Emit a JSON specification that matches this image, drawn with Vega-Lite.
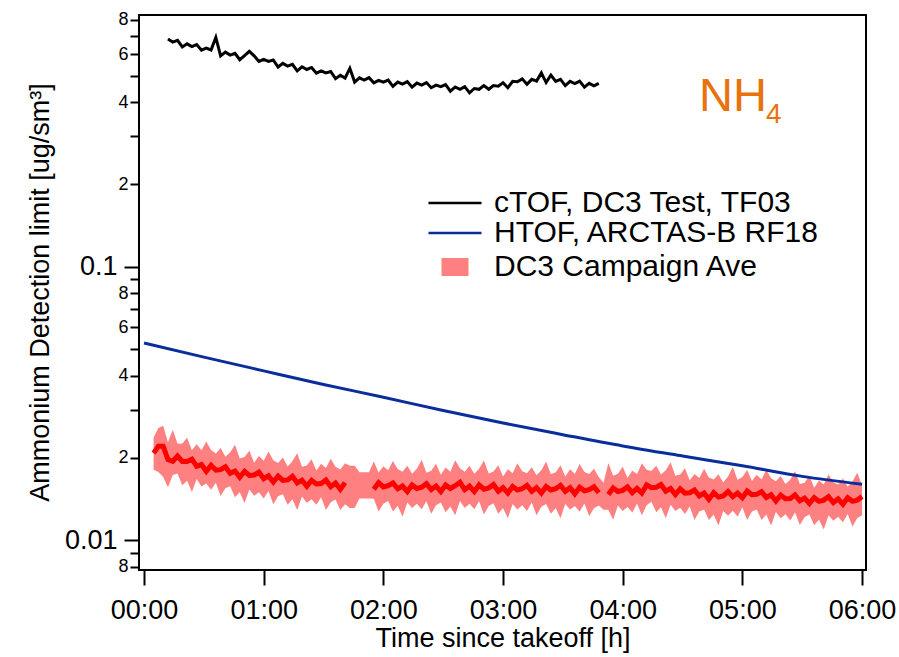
{
  "$schema": "https://vega.github.io/schema/vega-lite/v6.json",
  "width": 727,
  "height": 555,
  "autosize": {"type": "none"},
  "padding": {"left": 139, "top": 15, "right": 33, "bottom": 87},
  "background": "white",
  "config": {
    "font": "Liberation Sans",
    "view": {"stroke": "#000000", "strokeWidth": 2},
    "axis": {"domain": false, "grid": false, "tickColor": "#000000", "labelColor": "#000000", "titleColor": "#000000", "labelFont": "Liberation Sans", "titleFont": "Liberation Sans", "titleFontWeight": "normal"},
    "legend": {"labelFont": "Liberation Sans", "labelColor": "#000000", "labelFontSize": 30, "labelLimit": 600, "padding": 0, "rowPadding": 0, "symbolSize": 400, "labelOffset": 24}
  },
  "datasets": {
    "ctof": [
      {"t":0.20,"v":0.681},{"t":0.24,"v":0.664},{"t":0.28,"v":0.674},{"t":0.32,"v":0.637},{"t":0.36,"v":0.654},{"t":0.40,"v":0.639},{"t":0.44,"v":0.650},{"t":0.48,"v":0.620},{"t":0.52,"v":0.631},{"t":0.56,"v":0.621},{"t":0.60,"v":0.690},{"t":0.64,"v":0.591},{"t":0.68,"v":0.610},{"t":0.72,"v":0.595},{"t":0.76,"v":0.604},{"t":0.80,"v":0.572},{"t":0.84,"v":0.592},{"t":0.88,"v":0.614},{"t":0.92,"v":0.591},{"t":0.96,"v":0.564},{"t":1.00,"v":0.574},{"t":1.04,"v":0.564},{"t":1.08,"v":0.571},{"t":1.12,"v":0.538},{"t":1.16,"v":0.555},{"t":1.20,"v":0.542},{"t":1.24,"v":0.550},{"t":1.28,"v":0.521},{"t":1.32,"v":0.539},{"t":1.36,"v":0.527},{"t":1.40,"v":0.536},{"t":1.44,"v":0.511},{"t":1.48,"v":0.521},{"t":1.52,"v":0.512},{"t":1.56,"v":0.518},{"t":1.60,"v":0.488},{"t":1.64,"v":0.502},{"t":1.68,"v":0.490},{"t":1.72,"v":0.532},{"t":1.76,"v":0.474},{"t":1.80,"v":0.491},{"t":1.84,"v":0.482},{"t":1.88,"v":0.492},{"t":1.92,"v":0.471},{"t":1.96,"v":0.481},{"t":2.00,"v":0.474},{"t":2.04,"v":0.482},{"t":2.08,"v":0.457},{"t":2.12,"v":0.474},{"t":2.16,"v":0.466},{"t":2.20,"v":0.476},{"t":2.24,"v":0.454},{"t":2.28,"v":0.470},{"t":2.32,"v":0.462},{"t":2.36,"v":0.472},{"t":2.40,"v":0.452},{"t":2.44,"v":0.462},{"t":2.48,"v":0.456},{"t":2.52,"v":0.464},{"t":2.56,"v":0.439},{"t":2.60,"v":0.455},{"t":2.64,"v":0.446},{"t":2.68,"v":0.456},{"t":2.72,"v":0.433},{"t":2.76,"v":0.449},{"t":2.80,"v":0.446},{"t":2.84,"v":0.460},{"t":2.88,"v":0.446},{"t":2.92,"v":0.460},{"t":2.96,"v":0.458},{"t":3.00,"v":0.471},{"t":3.04,"v":0.452},{"t":3.08,"v":0.477},{"t":3.12,"v":0.475},{"t":3.16,"v":0.487},{"t":3.20,"v":0.465},{"t":3.24,"v":0.485},{"t":3.28,"v":0.478},{"t":3.32,"v":0.512},{"t":3.36,"v":0.472},{"t":3.40,"v":0.503},{"t":3.44,"v":0.477},{"t":3.48,"v":0.485},{"t":3.52,"v":0.460},{"t":3.56,"v":0.477},{"t":3.60,"v":0.468},{"t":3.64,"v":0.478},{"t":3.68,"v":0.454},{"t":3.72,"v":0.469},{"t":3.76,"v":0.459},{"t":3.80,"v":0.469}
    ],
    "htof": [
      {"t":0,"v":0.0526},{"t":0.5,"v":0.0467},{"t":1.0,"v":0.0416},{"t":1.5,"v":0.0371},{"t":2.0,"v":0.0333},{"t":2.5,"v":0.0298},{"t":3.0,"v":0.0268},{"t":3.5,"v":0.0243},{"t":4.0,"v":0.0221},{"t":4.5,"v":0.0203},{"t":5.0,"v":0.0187},{"t":5.5,"v":0.0171},{"t":6.0,"v":0.0160}
    ],
    "dc3": [
      {"t":0.08,"v":0.0208,"lo":0.0181,"hi":0.02371,"s":1},
      {"t":0.12,"v":0.02204,"lo":0.01776,"hi":0.02568,"s":1},
      {"t":0.16,"v":0.02205,"lo":0.0170,"hi":0.0262,"s":1},
      {"t":0.20,"v":0.0197,"lo":0.0156,"hi":0.02282,"s":1},
      {"t":0.24,"v":0.0194,"lo":0.01729,"hi":0.02533,"s":1},
      {"t":0.28,"v":0.0203,"lo":0.01751,"hi":0.02249,"s":1},
      {"t":0.32,"v":0.0194,"lo":0.01588,"hi":0.02254,"s":1},
      {"t":0.36,"v":0.0194,"lo":0.01649,"hi":0.02367,"s":1},
      {"t":0.40,"v":0.01978,"lo":0.01498,"hi":0.02131,"s":1},
      {"t":0.44,"v":0.01862,"lo":0.01672,"hi":0.02242,"s":1},
      {"t":0.48,"v":0.01889,"lo":0.01571,"hi":0.02132,"s":1},
      {"t":0.52,"v":0.01785,"lo":0.0161,"hi":0.02294,"s":1},
      {"t":0.56,"v":0.01877,"lo":0.01527,"hi":0.02134,"s":1},
      {"t":0.60,"v":0.01802,"lo":0.0162,"hi":0.02075,"s":1},
      {"t":0.64,"v":0.0181,"lo":0.01448,"hi":0.02172,"s":1},
      {"t":0.68,"v":0.01854,"lo":0.01548,"hi":0.02016,"s":1},
      {"t":0.72,"v":0.01754,"lo":0.01575,"hi":0.02094,"s":1},
      {"t":0.76,"v":0.01788,"lo":0.01434,"hi":0.0223,"s":1},
      {"t":0.80,"v":0.01698,"lo":0.01496,"hi":0.01989,"s":1},
      {"t":0.84,"v":0.01785,"lo":0.01365,"hi":0.02013,"s":1},
      {"t":0.88,"v":0.01723,"lo":0.01531,"hi":0.02123,"s":1},
      {"t":0.92,"v":0.0173,"lo":0.01453,"hi":0.0192,"s":1},
      {"t":0.96,"v":0.01772,"lo":0.01496,"hi":0.0203,"s":1},
      {"t":1.00,"v":0.01676,"lo":0.01419,"hi":0.01949,"s":1},
      {"t":1.04,"v":0.01717,"lo":0.01513,"hi":0.02108,"s":1},
      {"t":1.08,"v":0.01631,"lo":0.01352,"hi":0.0196,"s":1},
      {"t":1.12,"v":0.01714,"lo":0.01445,"hi":0.01915,"s":1},
      {"t":1.16,"v":0.01653,"lo":0.0147,"hi":0.02004,"s":1},
      {"t":1.20,"v":0.0166,"lo":0.01345,"hi":0.01859,"s":1},
      {"t":1.24,"v":0.0171,"lo":0.01411,"hi":0.01942,"s":1},
      {"t":1.28,"v":0.01617,"lo":0.01287,"hi":0.02079,"s":1},
      {"t":1.32,"v":0.01656,"lo":0.01443,"hi":0.01853,"s":1},
      {"t":1.36,"v":0.01573,"lo":0.01369,"hi":0.01875,"s":1},
      {"t":1.40,"v":0.01652,"lo":0.01409,"hi":0.01976,"s":1},
      {"t":1.44,"v":0.01604,"lo":0.01345,"hi":0.01798,"s":1},
      {"t":1.48,"v":0.0161,"lo":0.01433,"hi":0.019,"s":1},
      {"t":1.52,"v":0.01658,"lo":0.01288,"hi":0.01835,"s":1},
      {"t":1.56,"v":0.01568,"lo":0.01376,"hi":0.01984,"s":1},
      {"t":1.60,"v":0.01616,"lo":0.01408,"hi":0.01856,"s":1},
      {"t":1.64,"v":0.01534,"lo":0.01288,"hi":0.01813,"s":1},
      {"t":1.68,"v":0.01622,"lo":0.01352,"hi":0.01908,"s":1},
      {"t":1.72,"lo":0.0131,"hi":0.0187,"s":0},
      {"t":1.76,"lo":0.0131,"hi":0.0187,"s":0},
      {"t":1.80,"lo":0.0142,"hi":0.0177,"s":0},
      {"t":1.84,"lo":0.0142,"hi":0.0177,"s":0},
      {"t":1.88,"lo":0.0142,"hi":0.0177,"s":0},
      {"t":1.92,"v":0.01534,"lo":0.01415,"hi":0.0194,"s":2},
      {"t":1.96,"v":0.01622,"lo":0.01272,"hi":0.01765,"s":2},
      {"t":2.00,"v":0.01564,"lo":0.01359,"hi":0.01864,"s":2},
      {"t":2.04,"v":0.0158,"lo":0.0139,"hi":0.01801,"s":2},
      {"t":2.08,"v":0.01617,"lo":0.01272,"hi":0.01947,"s":2},
      {"t":2.12,"v":0.01539,"lo":0.01335,"hi":0.01821,"s":2},
      {"t":2.16,"v":0.01576,"lo":0.01217,"hi":0.01778,"s":2},
      {"t":2.20,"v":0.01505,"lo":0.01373,"hi":0.01872,"s":2},
      {"t":2.24,"v":0.01591,"lo":0.0131,"hi":0.01747,"s":2},
      {"t":2.28,"v":0.01544,"lo":0.01357,"hi":0.01825,"s":2},
      {"t":2.32,"v":0.0156,"lo":0.01295,"hi":0.01966,"s":2},
      {"t":2.36,"v":0.01607,"lo":0.01388,"hi":0.01763,"s":2},
      {"t":2.40,"v":0.01529,"lo":0.01248,"hi":0.01794,"s":2},
      {"t":2.44,"v":0.01576,"lo":0.01342,"hi":0.01903,"s":2},
      {"t":2.48,"v":0.01505,"lo":0.01373,"hi":0.01732,"s":2},
      {"t":2.52,"v":0.01591,"lo":0.01264,"hi":0.01841,"s":2},
      {"t":2.56,"v":0.01544,"lo":0.01326,"hi":0.01778,"s":2},
      {"t":2.60,"v":0.0158,"lo":0.01232,"hi":0.01959,"s":2},
      {"t":2.64,"v":0.01627,"lo":0.0139,"hi":0.01833,"s":2},
      {"t":2.68,"v":0.01529,"lo":0.0131,"hi":0.01778,"s":2},
      {"t":2.72,"v":0.01576,"lo":0.01357,"hi":0.01872,"s":2},
      {"t":2.76,"v":0.01505,"lo":0.01295,"hi":0.01747,"s":2},
      {"t":2.80,"v":0.01591,"lo":0.01388,"hi":0.01825,"s":2},
      {"t":2.84,"v":0.01535,"lo":0.0124,"hi":0.01953,"s":2},
      {"t":2.88,"v":0.0155,"lo":0.01333,"hi":0.01752,"s":2},
      {"t":2.92,"v":0.01597,"lo":0.01364,"hi":0.01783,"s":2},
      {"t":2.96,"v":0.01509,"lo":0.01247,"hi":0.01879,"s":2},
      {"t":3.00,"v":0.01555,"lo":0.01309,"hi":0.01709,"s":2},
      {"t":3.04,"v":0.01486,"lo":0.01201,"hi":0.01817,"s":2},
      {"t":3.08,"v":0.01571,"lo":0.01355,"hi":0.01756,"s":2},
      {"t":3.12,"v":0.01525,"lo":0.01294,"hi":0.0191,"s":2},
      {"t":3.16,"v":0.0154,"lo":0.0134,"hi":0.01786,"s":2},
      {"t":3.20,"v":0.01586,"lo":0.01278,"hi":0.01756,"s":2},
      {"t":3.24,"v":0.01509,"lo":0.01371,"hi":0.01848,"s":2},
      {"t":3.28,"v":0.01555,"lo":0.01232,"hi":0.01725,"s":2},
      {"t":3.32,"v":0.01486,"lo":0.01324,"hi":0.01802,"s":2},
      {"t":3.36,"v":0.01571,"lo":0.01355,"hi":0.0194,"s":2},
      {"t":3.40,"v":0.01525,"lo":0.01247,"hi":0.0174,"s":2},
      {"t":3.44,"v":0.0154,"lo":0.01309,"hi":0.01771,"s":2},
      {"t":3.48,"v":0.01586,"lo":0.01201,"hi":0.01879,"s":2},
      {"t":3.52,"v":0.01509,"lo":0.01355,"hi":0.01709,"s":2},
      {"t":3.56,"v":0.01555,"lo":0.01294,"hi":0.01817,"s":2},
      {"t":3.60,"v":0.01476,"lo":0.01331,"hi":0.01744,"s":2},
      {"t":3.64,"v":0.01561,"lo":0.0127,"hi":0.01897,"s":2},
      {"t":3.68,"v":0.01515,"lo":0.01362,"hi":0.01775,"s":2},
      {"t":3.72,"v":0.0153,"lo":0.01224,"hi":0.01744,"s":2},
      {"t":3.76,"v":0.01566,"lo":0.01307,"hi":0.01824,"s":2},
      {"t":3.80,"v":0.0149,"lo":0.01338,"hi":0.01702,"s":2},
      {"t":3.84,"lo":0.0129,"hi":0.0162,"s":0},
      {"t":3.88,"v":0.01467,"lo":0.01292,"hi":0.01915,"s":3},
      {"t":3.92,"v":0.0155,"lo":0.01186,"hi":0.01718,"s":3},
      {"t":3.96,"v":0.01505,"lo":0.01338,"hi":0.01748,"s":3},
      {"t":4.00,"v":0.0152,"lo":0.01277,"hi":0.01854,"s":3},
      {"t":4.04,"v":0.01566,"lo":0.01322,"hi":0.01687,"s":3},
      {"t":4.08,"v":0.0149,"lo":0.01262,"hi":0.01794,"s":3},
      {"t":4.12,"v":0.01545,"lo":0.01362,"hi":0.01744,"s":3},
      {"t":4.16,"v":0.01486,"lo":0.01232,"hi":0.0191,"s":3},
      {"t":4.20,"v":0.01591,"lo":0.01342,"hi":0.0181,"s":3},
      {"t":4.24,"v":0.01554,"lo":0.01382,"hi":0.0179,"s":3},
      {"t":4.28,"v":0.0156,"lo":0.01264,"hi":0.01872,"s":3},
      {"t":4.32,"v":0.01597,"lo":0.01318,"hi":0.01736,"s":3},
      {"t":4.36,"v":0.01509,"lo":0.01201,"hi":0.01802,"s":3},
      {"t":4.40,"v":0.01545,"lo":0.01346,"hi":0.01928,"s":3},
      {"t":4.44,"v":0.01467,"lo":0.01277,"hi":0.01718,"s":3},
      {"t":4.48,"v":0.0154,"lo":0.01314,"hi":0.01737,"s":3},
      {"t":4.52,"v":0.01485,"lo":0.01245,"hi":0.0183,"s":3},
      {"t":4.56,"v":0.0149,"lo":0.01326,"hi":0.01654,"s":3},
      {"t":4.60,"v":0.01524,"lo":0.01184,"hi":0.01746,"s":3},
      {"t":4.64,"v":0.0145,"lo":0.01273,"hi":0.01687,"s":3},
      {"t":4.68,"v":0.01485,"lo":0.01294,"hi":0.01823,"s":3},
      {"t":4.72,"v":0.01409,"lo":0.01183,"hi":0.01694,"s":3},
      {"t":4.76,"v":0.01489,"lo":0.01241,"hi":0.01664,"s":3},
      {"t":4.80,"v":0.01436,"lo":0.01131,"hi":0.0174,"s":3},
      {"t":4.84,"v":0.0145,"lo":0.01276,"hi":0.01624,"s":3},
      {"t":4.88,"v":0.01504,"lo":0.01226,"hi":0.01708,"s":3},
      {"t":4.92,"v":0.01441,"lo":0.01279,"hi":0.01852,"s":3},
      {"t":4.96,"v":0.01485,"lo":0.0122,"hi":0.01661,"s":3},
      {"t":5.00,"v":0.01428,"lo":0.01317,"hi":0.01702,"s":3},
      {"t":5.04,"v":0.0151,"lo":0.01184,"hi":0.01806,"s":3},
      {"t":5.08,"v":0.01465,"lo":0.01273,"hi":0.01643,"s":3},
      {"t":5.12,"v":0.0147,"lo":0.01294,"hi":0.01735,"s":3},
      {"t":5.16,"v":0.01504,"lo":0.01183,"hi":0.01664,"s":3},
      {"t":5.20,"v":0.01431,"lo":0.01241,"hi":0.0181,"s":3},
      {"t":5.24,"v":0.01465,"lo":0.01131,"hi":0.01682,"s":3},
      {"t":5.28,"v":0.0139,"lo":0.01267,"hi":0.01642,"s":3},
      {"t":5.32,"v":0.01459,"lo":0.01201,"hi":0.01716,"s":3},
      {"t":5.36,"v":0.01416,"lo":0.01244,"hi":0.01602,"s":3},
      {"t":5.40,"v":0.0142,"lo":0.01179,"hi":0.01661,"s":3},
      {"t":5.44,"v":0.01463,"lo":0.01264,"hi":0.01789,"s":3},
      {"t":5.48,"v":0.01392,"lo":0.01136,"hi":0.01605,"s":3},
      {"t":5.52,"v":0.01424,"lo":0.01213,"hi":0.01622,"s":3},
      {"t":5.56,"v":0.01361,"lo":0.01241,"hi":0.0172,"s":3},
      {"t":5.60,"v":0.01428,"lo":0.01134,"hi":0.01554,"s":3},
      {"t":5.64,"v":0.01386,"lo":0.0119,"hi":0.01652,"s":3},
      {"t":5.68,"v":0.014,"lo":0.01092,"hi":0.01596,"s":3},
      {"t":5.72,"v":0.01442,"lo":0.01232,"hi":0.01736,"s":3},
      {"t":5.76,"v":0.01372,"lo":0.01176,"hi":0.01624,"s":3},
      {"t":5.80,"v":0.01414,"lo":0.01218,"hi":0.01596,"s":3},
      {"t":5.84,"v":0.01351,"lo":0.01162,"hi":0.0168,"s":3},
      {"t":5.88,"v":0.01428,"lo":0.01246,"hi":0.01568,"s":3},
      {"t":5.92,"v":0.01386,"lo":0.0112,"hi":0.01638,"s":3},
      {"t":5.96,"v":0.014,"lo":0.01204,"hi":0.01764,"s":3},
      {"t":6.00,"v":0.01442,"lo":0.01232,"hi":0.01582,"s":3}
    ]
  },
  "layer": [
    {
      "data": {"name": "dc3"},
      "mark": {"type": "area", "opacity": 1},
      "encoding": {
        "x": {
          "field": "t", "type": "quantitative",
          "scale": {"domain": [-0.042, 6.033], "nice": false, "zero": false},
          "axis": {"values": [0, 1, 2, 3, 4, 5, 6], "labelExpr": "'0' + datum.value + ':00'", "labelFontSize": 27, "labelFlush": false, "labelPadding": 12, "tickSize": 15, "tickWidth": 2, "title": "Time since takeoff [h]", "titleFontSize": 27, "titlePadding": 2}
        },
        "y": {
          "field": "lo", "type": "quantitative",
          "scale": {"type": "log", "domain": [0.00777, 0.834], "nice": false},
          "axis": {
            "orient": "left", "values": [0.01, 0.1],
            "labelExpr": "datum.value < 0.05 ? '0.01' : '0.1'",
            "labelFontSize": 27, "labelPadding": 7, "labelOverlap": false,
            "tickSize": 15, "tickWidth": 2,
            "title": "Ammonium Detection limit [ug/sm³]", "titleFontSize": 27,
            "titleAngle": 270, "titleAlign": "center", "titleBaseline": "alphabetic",
            "titleX": -91, "titleY": 277
          }
        },
        "y2": {"field": "hi"},
        "fill": {
          "datum": "DC3 Campaign Ave",
          "scale": {"domain": ["DC3 Campaign Ave"], "range": ["#ff8080"]},
          "legend": {
            "orient": "none", "legendX": 301, "legendY": 237, "title": null,
            "symbolType": "M-1.35,-0.9H1.35V0.9H-1.35Z", "symbolStrokeWidth": 0, "symbolOpacity": 1
          }
        }
      }
    },
    {
      "data": {"name": "dc3"},
      "transform": [{"filter": "isValid(datum.v)"}],
      "mark": {"type": "line", "color": "#ff0000", "strokeWidth": 5},
      "encoding": {
        "x": {
          "field": "t", "type": "quantitative",
          "axis": {"values": [0, 1, 2, 3, 4, 5, 6], "labelExpr": "'0' + datum.value + ':00'", "labelFontSize": 27, "labelFlush": false, "labelPadding": 12, "tickSize": 15, "tickWidth": 2, "title": "Time since takeoff [h]", "titleFontSize": 27, "titlePadding": 2}
        },
        "y": {
          "field": "v", "type": "quantitative",
          "axis": {
            "orient": "left",
            "values": [0.008, 0.009, 0.02, 0.03, 0.04, 0.05, 0.06, 0.07, 0.08, 0.09, 0.2, 0.3, 0.4, 0.5, 0.6, 0.7, 0.8],
            "labelExpr": "round(datum.value / pow(10, floor(log(datum.value) / LN10 + 1e-9))) % 2 === 0 ? '' + round(datum.value / pow(10, floor(log(datum.value) / LN10 + 1e-9))) : ''",
            "labelFontSize": 18, "labelPadding": 2, "labelOverlap": false, "labelBound": false,
            "tickSize": 9, "tickWidth": 2, "title": null
          }
        },
        "detail": {"field": "s"}
      }
    },
    {
      "data": {"name": "htof"},
      "mark": {"type": "line", "strokeWidth": 3, "interpolate": "monotone"},
      "encoding": {
        "x": {
          "field": "t", "type": "quantitative",
          "axis": {"values": [0, 1, 2, 3, 4, 5, 6], "labelExpr": "'0' + datum.value + ':00'", "labelFontSize": 27, "labelFlush": false, "labelPadding": 12, "tickSize": 15, "tickWidth": 2, "title": "Time since takeoff [h]", "titleFontSize": 27, "titlePadding": 2}
        },
        "y": {"field": "v", "type": "quantitative", "axis": null},
        "stroke": {
          "datum": "HTOF, ARCTAS-B RF18",
          "scale": {"domain": ["cTOF, DC3 Test, TF03", "HTOF, ARCTAS-B RF18"], "range": ["#000000", "#0a2d9c"]},
          "legend": {
            "orient": "none", "legendX": 301, "legendY": 173, "title": null,
            "symbolType": "M-2.65,0H2.65", "symbolStrokeWidth": 2.5, "symbolOpacity": 1
          }
        }
      }
    },
    {
      "data": {"name": "ctof"},
      "mark": {"type": "line", "strokeWidth": 3},
      "encoding": {
        "x": {
          "field": "t", "type": "quantitative",
          "axis": {"values": [0, 1, 2, 3, 4, 5, 6], "labelExpr": "'0' + datum.value + ':00'", "labelFontSize": 27, "labelFlush": false, "labelPadding": 12, "tickSize": 15, "tickWidth": 2, "title": "Time since takeoff [h]", "titleFontSize": 27, "titlePadding": 2}
        },
        "y": {"field": "v", "type": "quantitative", "axis": null},
        "stroke": {"datum": "cTOF, DC3 Test, TF03"}
      }
    },
    {
      "data": {"values": [{"txt": "NH"}]},
      "mark": {"type": "text", "align": "left", "baseline": "alphabetic", "fontSize": 47, "color": "#e8730e", "font": "Liberation Sans"},
      "encoding": {
        "x": {
          "datum": 4.638, "type": "quantitative",
          "axis": {"values": [0, 1, 2, 3, 4, 5, 6], "labelExpr": "'0' + datum.value + ':00'", "labelFontSize": 27, "labelFlush": false, "labelPadding": 12, "tickSize": 15, "tickWidth": 2, "title": "Time since takeoff [h]", "titleFontSize": 27, "titlePadding": 2}
        },
        "y": {"datum": 0.3713, "type": "quantitative", "axis": null},
        "text": {"field": "txt"}
      }
    },
    {
      "data": {"values": [{"txt": "4"}]},
      "mark": {"type": "text", "align": "left", "baseline": "alphabetic", "fontSize": 28, "color": "#e8730e", "font": "Liberation Sans"},
      "encoding": {
        "x": {
          "datum": 5.198, "type": "quantitative",
          "axis": {"values": [0, 1, 2, 3, 4, 5, 6], "labelExpr": "'0' + datum.value + ':00'", "labelFontSize": 27, "labelFlush": false, "labelPadding": 12, "tickSize": 15, "tickWidth": 2, "title": "Time since takeoff [h]", "titleFontSize": 27, "titlePadding": 2}
        },
        "y": {"datum": 0.3356, "type": "quantitative", "axis": null},
        "text": {"field": "txt"}
      }
    }
  ],
  "resolve": {"scale": {"y": "shared"}, "axis": {"y": "independent"}}
}
